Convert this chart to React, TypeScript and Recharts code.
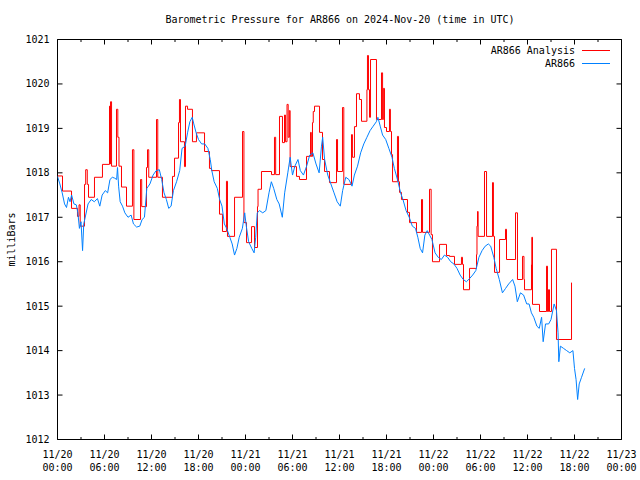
import { LineChart, Line, XAxis, YAxis, Legend, ReferenceLine, ReferenceArea } from 'recharts';

const FONT = '"DejaVu Sans Mono", "Liberation Mono", monospace';

// hours since 2024-11-20 00:00 UTC
const majorHours = [0, 6, 12, 18, 24, 30, 36, 42, 48, 54, 60, 66, 72];
const minorHours = [3, 9, 15, 21, 27, 33, 39, 45, 51, 57, 63, 69];
const pressureTicks = [1012, 1013, 1014, 1015, 1016, 1017, 1018, 1019, 1020, 1021];
const seriesNames = ['AR866 Analysis', 'AR866'];

// [hour, mbar]
const analysisReadings: [number, number][] = [
  [0, 1017.93], [0.64, 1017.59], [1.79, 1017.2], [2.55, 1017.02], [2.75, 1017.28], [2.9, 1016.8],
  [3.45, 1017.74], [3.6, 1018.07], [3.8, 1017.74], [3.96, 1017.45], [4.72, 1017.9], [5.74, 1018.19],
  [6.64, 1019.5], [6.72, 1018.2], [6.77, 1019.6], [6.9, 1018.15], [7.53, 1019.43], [7.7, 1018.8],
  [7.85, 1018.15], [8.17, 1017.68], [8.81, 1017.25], [9.57, 1018.52], [9.75, 1016.95], [10.6, 1017.85],
  [10.75, 1017.24], [11.36, 1018.12], [11.49, 1018.52], [11.65, 1017.9], [12.64, 1019.2], [12.8, 1017.9],
  [13.4, 1017.45], [14.68, 1017.92], [14.94, 1018.33], [15.45, 1019.13], [15.57, 1019.65], [15.7, 1018.7],
  [16.21, 1018.14], [16.34, 1019.5], [16.6, 1019.43], [17.23, 1018.7], [17.74, 1018.9], [18.77, 1018.48],
  [19.4, 1018.1], [19.66, 1018.05], [20.68, 1017.07], [21.06, 1016.68], [21.57, 1017.81], [21.7, 1016.57],
  [22.6, 1017.45], [23.62, 1018.93], [23.8, 1016.88], [24.13, 1016.43], [24.77, 1016.79], [25.15, 1016.32],
  [25.53, 1017.24], [25.6, 1017.63], [26.04, 1018.03], [27.32, 1017.96], [27.7, 1018.8], [27.85, 1017.96],
  [28.34, 1019.27], [28.72, 1018.68], [28.98, 1019.3], [29.1, 1018.7], [29.3, 1019.54], [29.45, 1018.8],
  [29.6, 1019.4], [29.7, 1018.14], [30.51, 1017.92], [30.89, 1017.85], [31.79, 1018.37], [32.3, 1018.91],
  [32.4, 1018.37], [32.55, 1019.13], [32.65, 1019.38], [32.81, 1019.5], [33.45, 1018.91], [33.83, 1018.3],
  [34.09, 1018.03], [34.72, 1017.78], [35.62, 1018.75], [35.75, 1018.03], [36.38, 1019.47], [36.55, 1017.74],
  [37.53, 1018.86], [37.65, 1018.35], [37.91, 1019.04], [38.17, 1019.78], [38.55, 1019.65], [38.81, 1019.16],
  [39.5, 1019.87], [39.57, 1020.64], [39.7, 1019.87], [39.83, 1019.25], [39.96, 1020.55], [40.72, 1019.2],
  [41.36, 1020.25], [41.5, 1019.2], [41.6, 1019.9], [41.74, 1019.02], [42.0, 1018.93], [42.38, 1019.43],
  [42.5, 1018.93], [42.64, 1018.41], [42.77, 1017.8], [43.4, 1018.82], [43.53, 1017.8], [43.66, 1017.56],
  [43.91, 1017.4], [44.68, 1017.11], [44.94, 1016.88], [45.83, 1016.66], [46.47, 1017.4], [46.6, 1016.66],
  [47.49, 1017.63], [47.7, 1016.61], [47.87, 1016.0], [48.77, 1016.39], [49.66, 1016.14], [50.04, 1016.12],
  [50.68, 1015.94], [51.57, 1016.1], [51.7, 1015.94], [51.83, 1015.37], [52.6, 1015.85], [53.49, 1016.16],
  [53.55, 1016.8], [53.62, 1017.13], [53.7, 1016.57], [54.51, 1018.03], [54.77, 1016.57], [55.53, 1017.78],
  [55.65, 1016.57], [55.79, 1015.76], [56.43, 1016.5], [57.19, 1016.73], [57.32, 1016.05], [58.47, 1017.1],
  [58.72, 1015.6], [59.36, 1016.12], [59.55, 1015.6], [59.62, 1015.37], [60.51, 1015.94], [60.55, 1016.55],
  [60.64, 1015.04], [61.53, 1014.88], [62.43, 1015.9], [62.55, 1014.88], [62.68, 1015.37], [62.81, 1014.88],
  [63.06, 1016.28], [63.7, 1014.25], [65.62, 1015.53],
];

const sensorReadings: [number, number][] = [
  [0, 1017.92], [0.3, 1017.75], [0.6, 1017.55], [0.9, 1017.3], [1.15, 1017.22], [1.4, 1017.45],
  [1.6, 1017.35], [1.8, 1017.5], [2.1, 1017.3], [2.4, 1017.28], [2.6, 1017.1], [2.8, 1016.75],
  [3.0, 1016.9], [3.2, 1016.25], [3.35, 1016.85], [3.6, 1017.05], [3.9, 1017.3], [4.3, 1017.4],
  [4.7, 1017.35], [5.1, 1017.42], [5.4, 1017.25], [5.7, 1017.5], [6.1, 1017.6], [6.4, 1017.55],
  [6.7, 1017.85], [7.0, 1017.9], [7.3, 1017.88], [7.55, 1017.85], [7.66, 1018.12], [7.8, 1017.7],
  [8.0, 1017.35], [8.3, 1017.25], [8.6, 1017.1], [9.0, 1017.0], [9.4, 1017.05], [9.7, 1016.85],
  [10.1, 1016.78], [10.5, 1016.8], [10.8, 1016.95], [11.1, 1017.0], [11.4, 1017.65], [11.8, 1017.75],
  [12.2, 1017.95], [12.6, 1018.05], [13.0, 1018.07], [13.3, 1017.85], [13.6, 1017.55], [13.9, 1017.4],
  [14.2, 1017.2], [14.5, 1017.25], [14.8, 1017.6], [15.2, 1017.8], [15.6, 1018.05], [15.9, 1018.55],
  [16.3, 1018.6], [16.6, 1018.9], [16.9, 1019.15], [17.2, 1019.25], [17.4, 1019.1], [17.7, 1018.9],
  [18.0, 1018.75], [18.4, 1018.65], [18.8, 1018.65], [19.2, 1018.55], [19.5, 1018.3], [19.7, 1018.05],
  [20.0, 1017.8], [20.4, 1017.65], [20.7, 1017.4], [21.0, 1017.25], [21.3, 1016.85], [21.6, 1016.75],
  [22.0, 1016.55], [22.3, 1016.4], [22.6, 1016.15], [22.9, 1016.3], [23.2, 1016.55], [23.6, 1016.75],
  [23.9, 1017.1], [24.1, 1016.8], [24.4, 1016.45], [24.8, 1016.3], [25.1, 1016.2], [25.3, 1016.55],
  [25.5, 1017.1], [25.8, 1017.15], [26.2, 1017.1], [26.6, 1017.15], [27.0, 1017.55], [27.3, 1017.8],
  [27.6, 1017.65], [28.0, 1017.4], [28.3, 1017.3], [28.7, 1017.0], [29.0, 1017.55], [29.4, 1018.0],
  [29.7, 1018.35], [30.0, 1017.95], [30.3, 1018.15], [30.7, 1018.3], [31.0, 1018.05], [31.4, 1017.95],
  [31.8, 1018.15], [32.2, 1018.4], [32.6, 1018.45], [33.0, 1018.2], [33.4, 1018.0], [33.7, 1018.6],
  [33.85, 1018.8], [34.1, 1018.3], [34.5, 1017.95], [34.9, 1017.75], [35.3, 1017.55], [35.7, 1017.35],
  [36.1, 1017.25], [36.4, 1017.6], [36.8, 1017.9], [37.2, 1017.85], [37.6, 1017.7], [37.9, 1017.95],
  [38.3, 1018.15], [38.7, 1018.45], [39.1, 1018.65], [39.5, 1018.8], [39.9, 1018.95], [40.3, 1019.05],
  [40.7, 1019.15], [40.9, 1019.25], [41.2, 1019.05], [41.5, 1018.85], [41.9, 1018.75], [42.3, 1018.55],
  [42.7, 1018.35], [43.0, 1018.1], [43.4, 1017.85], [43.8, 1017.55], [44.1, 1017.4], [44.5, 1017.15],
  [44.9, 1017.0], [45.3, 1016.8], [45.7, 1016.75], [46.0, 1016.55], [46.3, 1016.3], [46.6, 1016.2],
  [46.9, 1016.6], [47.2, 1016.7], [47.5, 1016.6], [47.8, 1016.5], [48.2, 1016.2], [48.6, 1016.1],
  [49.0, 1016.05], [49.4, 1016.15], [49.8, 1016.1], [50.2, 1016.0], [50.6, 1015.95], [51.0, 1015.85],
  [51.4, 1015.7], [51.8, 1015.6], [52.2, 1015.55], [52.6, 1015.62], [53.0, 1015.7], [53.4, 1015.8],
  [53.8, 1016.1], [54.2, 1016.25], [54.6, 1016.35], [55.0, 1016.4], [55.3, 1016.35], [55.7, 1016.1],
  [56.0, 1015.85], [56.4, 1015.6], [56.8, 1015.3], [57.2, 1015.4], [57.6, 1015.5], [58.1, 1015.6],
  [58.4, 1015.45], [58.7, 1015.1], [59.1, 1015.3], [59.5, 1015.25], [59.9, 1015.05], [60.2, 1015.05],
  [60.5, 1014.85], [60.8, 1014.75], [61.2, 1014.55], [61.5, 1014.5], [61.8, 1014.75], [62.0, 1014.2],
  [62.3, 1014.6], [62.7, 1014.6], [63.0, 1014.7], [63.4, 1015.05], [63.7, 1014.9], [63.9, 1014.4],
  [64.0, 1013.75], [64.2, 1014.1], [64.6, 1014.05], [65.0, 1014.0], [65.4, 1013.95], [65.8, 1014.0],
  [66.0, 1013.6], [66.2, 1013.35], [66.4, 1012.9], [66.6, 1013.25], [66.9, 1013.4], [67.3, 1013.6],
];

const analysisData = analysisReadings.map(([h, p]) => ({ h, p }));
const sensorData = sensorReadings.map(([h, p]) => ({ h, p }));

const X_MIN = 0;
const X_MAX = 72;
const Y_MIN = 1012;
const Y_MAX = 1021;
const PLOT_W = 564;
const PLOT_H = 400;

// inward tick lengths, converted from pixels into data units
const hPerPx = (X_MAX - X_MIN) / PLOT_W;
const mbPerPx = (Y_MAX - Y_MIN) / PLOT_H;
const MAJOR = 5;
const MINOR = 2.5;

const timeLabel = (h: number): [string, string] => {
  const day = 20 + Math.floor(h / 24);
  const hh = String(h % 24).padStart(2, '0');
  return [`11/${day}`, `${hh}:00`];
};

function TimeTick({ x, y, payload }: any) {
  const [d, t] = timeLabel(payload.value);
  return (
    <text x={x} y={y} textAnchor="middle" fontFamily={FONT} fontSize={10} fill="#000">
      <tspan x={x} dy={18}>{d}</tspan>
      <tspan x={x} dy={13}>{t}</tspan>
    </text>
  );
}

function LegendBox({ payload }: any) {
  // keep the plotting order, recharts sorts entries by name otherwise
  const items = [...(payload || [])].sort(
    (a: any, b: any) => seriesNames.indexOf(a.value) - seriesNames.indexOf(b.value),
  );
  return (
    <div style={{ fontFamily: FONT, fontSize: 10, lineHeight: '13px', color: '#000' }}>
      {items.map((e: any) => (
        <div key={e.value} style={{ display: 'flex', justifyContent: 'flex-end', alignItems: 'center' }}>
          <span>{e.value}</span>
          <svg width={36} height={13}>
            <line x1={7} x2={35} y1={6.5} y2={6.5} stroke={e.color} strokeWidth={1} />
          </svg>
        </div>
      ))}
    </div>
  );
}

const tickSegments = () => {
  const segs: { x1: number; y1: number; x2: number; y2: number }[] = [];
  const addX = (t: number, len: number) => {
    segs.push({ x1: t, y1: Y_MIN, x2: t, y2: Y_MIN + len * mbPerPx });
    segs.push({ x1: t, y1: Y_MAX, x2: t, y2: Y_MAX - len * mbPerPx });
  };
  majorHours.forEach((t) => addX(t, MAJOR));
  minorHours.forEach((t) => addX(t, MINOR));
  pressureTicks.forEach((v) => {
    segs.push({ x1: X_MIN, y1: v, x2: X_MIN + MAJOR * hPerPx, y2: v });
    segs.push({ x1: X_MAX, y1: v, x2: X_MAX - MAJOR * hPerPx, y2: v });
  });
  return segs;
};

export default function App() {
  return (
    <div style={{ position: 'absolute', left: 0, top: 0, width: 640, height: 480, background: '#fff' }}>
      <div
        style={{
          position: 'absolute', top: 13, left: 58, width: 564, textAlign: 'center', whiteSpace: 'nowrap',
          fontFamily: FONT, fontSize: 10, lineHeight: '13px', color: '#000',
        }}
      >
        Barometric Pressure for AR866 on 2024-Nov-20 (time in UTC)
      </div>
      <LineChart width={640} height={480} margin={{ top: 39.5, right: 18.5, bottom: 0, left: 0 }}>
        <XAxis
          dataKey="h"
          type="number"
          domain={[X_MIN, X_MAX]}
          ticks={majorHours}
          interval={0}
          allowDataOverflow
          tickLine={false}
          axisLine={false}
          tickSize={0}
          tickMargin={0}
          height={40.5}
          tick={<TimeTick />}
        />
        <YAxis
          type="number"
          domain={[Y_MIN, Y_MAX]}
          ticks={pressureTicks}
          interval={0}
          allowDataOverflow
          tickLine={false}
          axisLine={false}
          tickSize={0}
          tickMargin={8}
          width={57.5}
          tick={{ fontFamily: FONT, fontSize: 10, fill: '#000' }}
          label={{
            content: ({ viewBox }: any) => {
              const cx = 11;
              const cy = viewBox.y + viewBox.height / 2;
              return (
                <text
                  x={cx}
                  y={cy}
                  transform={`rotate(-90 ${cx} ${cy})`}
                  textAnchor="middle"
                  dominantBaseline="central"
                  fontFamily={FONT}
                  fontSize={10}
                  fill="#000"
                >
                  milliBars
                </text>
              );
            },
          }}
        />
        <Legend
          layout="horizontal"
          verticalAlign="middle"
          align="center"
          content={<LegendBox />}
          wrapperStyle={{ top: 44, left: 'auto', right: 29, width: 'auto' }}
        />
        <Line
          name="AR866 Analysis"
          data={analysisData}
          dataKey="p"
          type="stepAfter"
          stroke="#ff0000"
          strokeWidth={1}
          dot={false}
          activeDot={false}
          isAnimationActive={false}
        />
        <Line
          name="AR866"
          data={sensorData}
          dataKey="p"
          type="linear"
          stroke="#0080ff"
          strokeWidth={1}
          dot={false}
          activeDot={false}
          isAnimationActive={false}
        />
        <ReferenceArea
          x1={X_MIN}
          x2={X_MAX}
          y1={Y_MIN}
          y2={Y_MAX}
          fill="none"
          fillOpacity={0}
          stroke="#000"
          strokeWidth={1}
          ifOverflow="visible"
        />
        {tickSegments().map((s, i) => (
          <ReferenceLine
            key={i}
            segment={[{ x: s.x1, y: s.y1 }, { x: s.x2, y: s.y2 }]}
            stroke="#000"
            strokeWidth={1}
            ifOverflow="visible"
          />
        ))}
      </LineChart>
    </div>
  );
}
